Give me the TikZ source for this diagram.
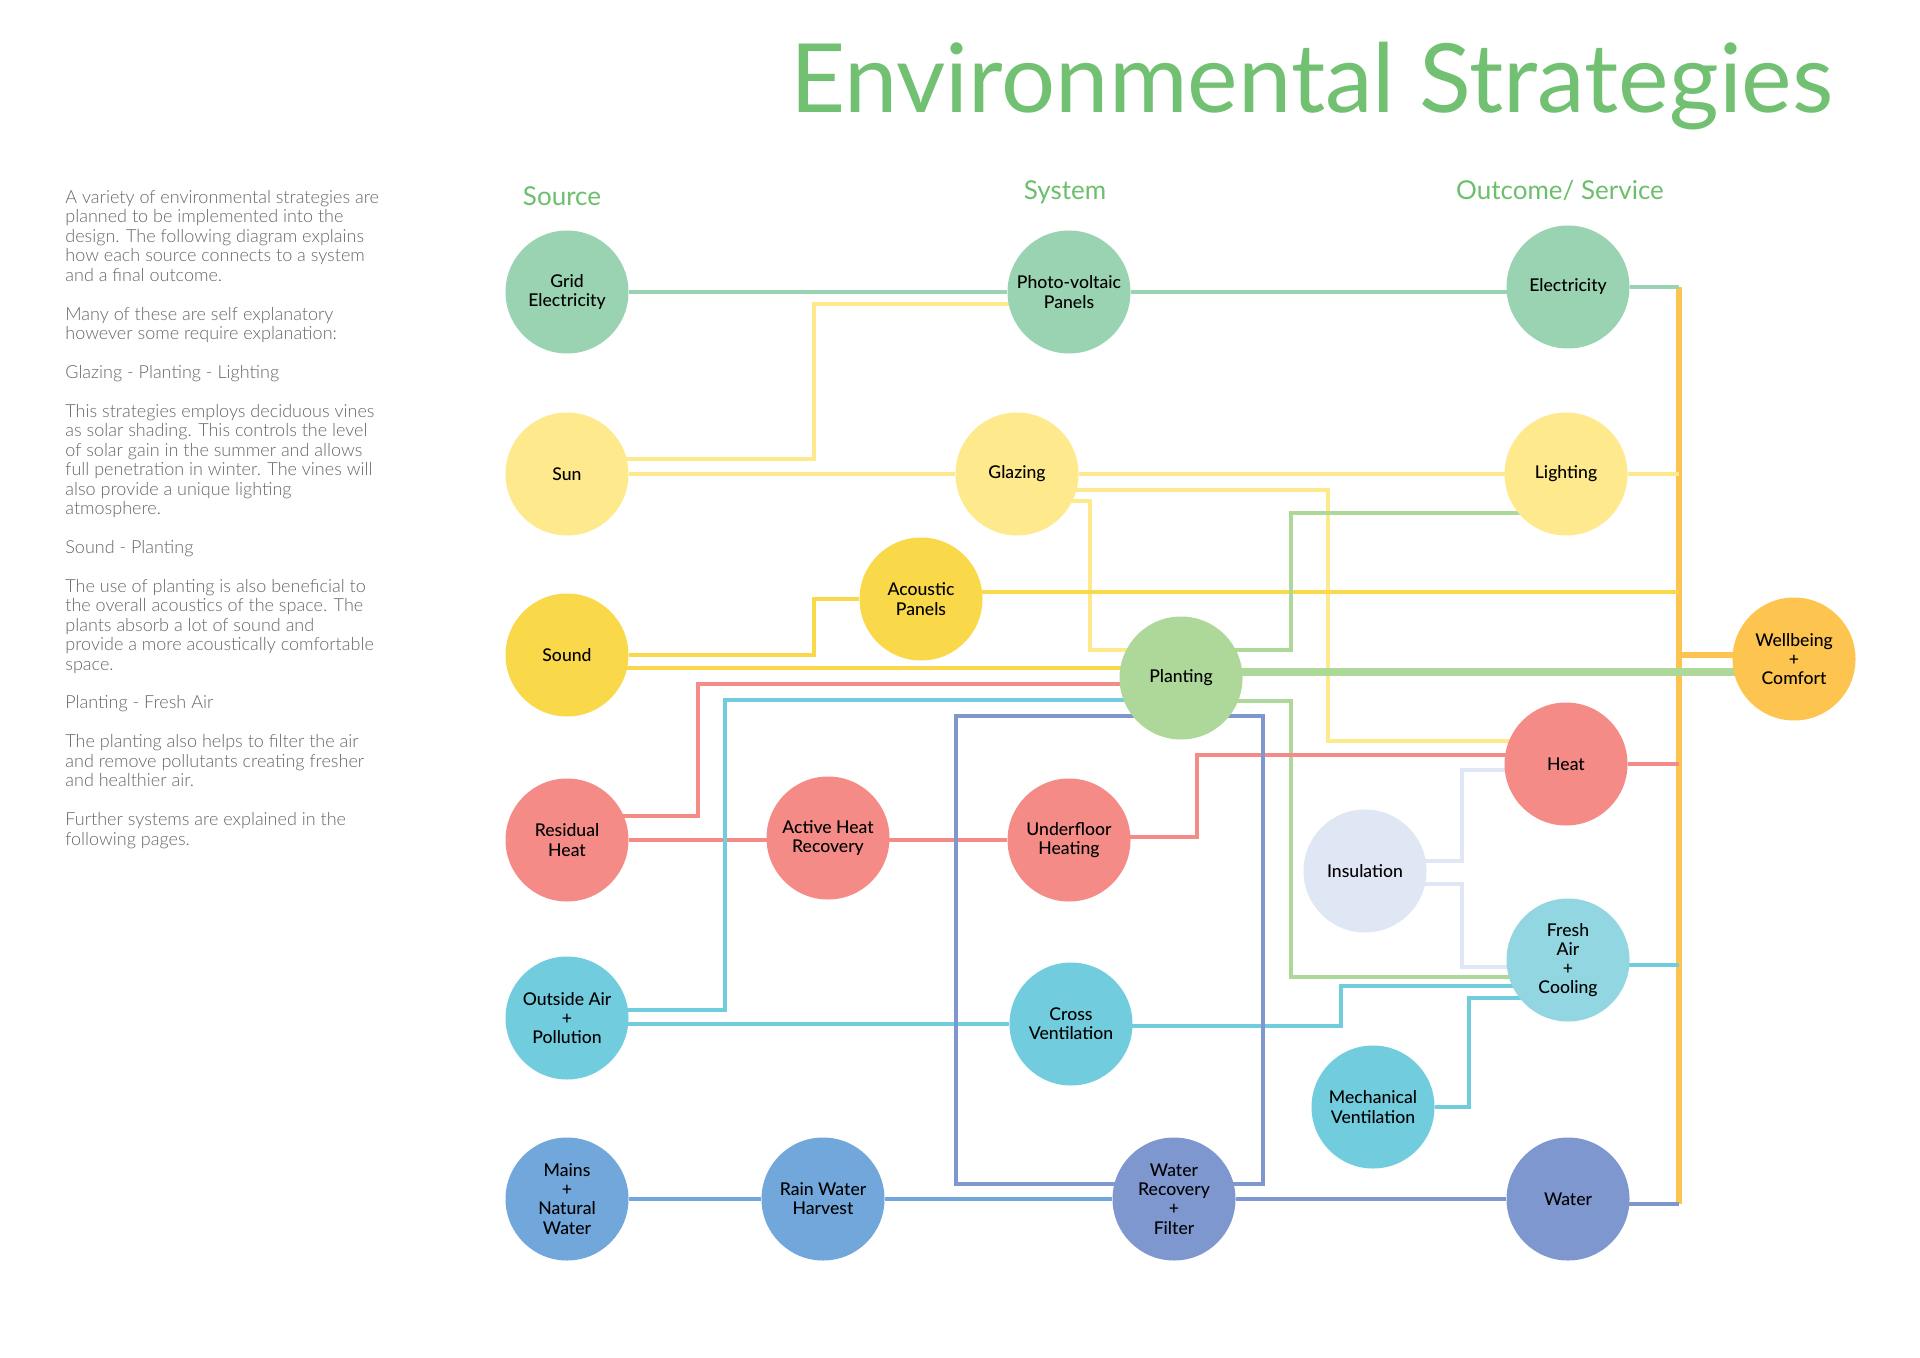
\documentclass[tikz,border=0pt]{standalone}
\usepackage{fontspec}
\setmainfont{Lato}
\IfFontExistsTF{Lato Light}{\newfontfamily\parafont{Lato Light}}{\newfontfamily\parafont{Lato}}
\IfFontExistsTF{Lato Medium}{\newfontfamily\nodefont{Lato Medium}}{\newfontfamily\nodefont{Lato}}
\usetikzlibrary{calc,backgrounds}
\definecolor{mint}{HTML}{99D3B2}
\definecolor{lyel}{HTML}{FEE98C}
\definecolor{yel}{HTML}{F9D94A}
\definecolor{lgreen}{HTML}{ADD899}
\definecolor{orng}{HTML}{FDC550}
\definecolor{sal}{HTML}{F48B87}
\definecolor{lav}{HTML}{DFE6F4}
\definecolor{lcyan}{HTML}{92D6E2}
\definecolor{cyn}{HTML}{71CDDD}
\definecolor{blu}{HTML}{71A7DB}
\definecolor{peri}{HTML}{7E97CF}
\definecolor{titlegreen}{HTML}{72C172}
\definecolor{headgreen}{HTML}{6CBF6C}
\definecolor{paragray}{HTML}{666666}
\tikzset{
  circ/.style={circle, minimum size=61.5pt, inner sep=0pt, align=center,
    font=\nodefont\fontsize{8.8}{9.6}\selectfont, text=black},
  ln/.style={line width=2.2pt},
  head/.style={anchor=base, text=headgreen, inner sep=0pt, font=\fontsize{13}{14}\selectfont},
}
\begin{document}
\begin{tikzpicture}[x=0.5pt,y=-0.5pt]
\useasboundingbox (0,0) rectangle (1920,1358);

% title and headings
\node[anchor=base west, text=titlegreen, inner sep=0pt] (title) at (790,113)
  {\resizebox{521.5pt}{!}{\fontsize{48}{48}\selectfont Environmental Strategies}};
\node[head] (hsrc) at (562,206) {Source};
\node[head] (hsys) at (1065,200) {System};
\node[head] (hout) at (1560,200) {Outcome/ Service};

% paragraph (base anchor = last line)
\node[anchor=base west, inner sep=0pt, align=left, text=paragray,
  font=\parafont\fontsize{9}{9.72}\selectfont] (para) at (65,845)
 {A variety of environmental strategies are\\
  planned to be implemented into the\\
  design. The following diagram explains\\
  how each source connects to a system\\
  and a final outcome.\\[9.72pt]
  Many of these are self explanatory\\
  however some require explanation:\\[9.72pt]
  Glazing - Planting - Lighting\\[9.72pt]
  This strategies employs deciduous vines\\
  as solar shading. This controls the level\\
  of solar gain in the summer and allows\\
  full penetration in winter. The vines will\\
  also provide a unique lighting\\
  atmosphere.\\[9.72pt]
  Sound - Planting\\[9.72pt]
  The use of planting is also beneficial to\\
  the overall acoustics of the space. The\\
  plants absorb a lot of sound and\\
  provide a more acoustically comfortable\\
  space.\\[9.72pt]
  Planting - Fresh Air\\[9.72pt]
  The planting also helps to filter the air\\
  and remove pollutants creating fresher\\
  and healthier air.\\[9.72pt]
  Further systems are explained in the\\
  following pages.};

% nodes
\node[circ, fill=mint] (grid) at (567,292) {Grid\\Electricity};
\node[circ, fill=mint] (pv) at (1069,292) {Photo-voltaic\\Panels};
\node[circ, fill=mint] (elec) at (1568,287) {Electricity};
\node[circ, fill=lyel] (sun) at (567,474) {Sun};
\node[circ, fill=lyel] (glazing) at (1017,474) {Glazing};
\node[circ, fill=lyel] (lighting) at (1566,474) {Lighting};
\node[circ, fill=yel] (acoustic) at (921,599) {Acoustic\\Panels};
\node[circ, fill=yel] (sound) at (567,655) {Sound};
\node[circ, fill=lgreen] (planting) at (1181,678) {Planting};
\node[circ, fill=orng] (wellbeing) at (1794,659) {Wellbeing\\+\\Comfort};
\node[circ, fill=sal] (residual) at (567,840) {Residual\\Heat};
\node[circ, fill=sal] (ahr) at (828,838) {Active Heat\\Recovery};
\node[circ, fill=sal] (ufh) at (1069,840) {Underfloor\\Heating};
\node[circ, fill=sal] (heat) at (1566,764) {Heat};
\node[circ, fill=lav] (insulation) at (1365,871) {Insulation};
\node[circ, fill=lcyan] (fresh) at (1568,960) {Fresh\\Air\\+\\Cooling};
\node[circ, fill=cyn] (outside) at (567,1018) {Outside Air\\+\\Pollution};
\node[circ, fill=cyn] (cross) at (1071,1024) {Cross\\Ventilation};
\node[circ, fill=cyn] (mech) at (1373,1107) {Mechanical\\Ventilation};
\node[circ, fill=blu] (mains) at (567,1199) {Mains\\+\\Natural\\Water};
\node[circ, fill=blu] (rain) at (823,1199) {Rain Water\\Harvest};
\node[circ, fill=peri] (wrf) at (1174,1199) {Water\\Recovery\\+\\Filter};
\node[circ, fill=peri] (water) at (1568,1199) {Water};

\coordinate (busT) at (1679,287);
\coordinate (busB) at (1679,1204);

\begin{scope}[on background layer]
\fill[white] (0,0) rectangle (1920,1358);
% bus
\draw[orng, line width=3pt] (busT) -- (busB);
\draw[orng, line width=3.3pt] ($(wellbeing)+(0,-4)$) coordinate (wb1) -- (wb1 -| busT);
% mint
\draw[ln, mint] (grid) -- (pv) -- (pv -| elec);
\draw[ln, mint] (elec) -- (elec -| busT);
% light yellow
\draw[ln, lyel] ($(sun)+(0,-15)$) -| (814,304) -- ($(pv)+(0,12)$);
\draw[ln, lyel] (sun) -- (glazing) -- (glazing -| lighting);
\draw[ln, lyel] (lighting) -- (lighting -| busT);
\draw[ln, lyel] ($(glazing)+(0,16)$) -| (1328,741) -- ($(heat)+(0,-23)$);
\draw[ln, lyel] ($(glazing)+(0,27)$) -| (1090,650) -- ($(planting)+(0,-28)$);
% yellow
\draw[ln, yel] (sound) -| (814,599) -- (acoustic);
\draw[ln, yel] ($(acoustic)+(0,-7)$) coordinate (a1) -- (a1 -| busT);
\draw[ln, yel] ($(sound)+(0,13)$) -- ($(planting)+(0,-10)$);
% light green
\draw[ln, lgreen] ($(planting)+(0,-28)$) -| (1291,513) -- ($(lighting)+(0,39)$);
\draw[ln, lgreen] ($(planting)+(0,23)$) -| (1291,977) -- ($(fresh)+(0,17)$);
\draw[lgreen, line width=4.3pt] ($(planting)+(0,-6)$) -- ($(wellbeing)+(0,13)$);
% salmon
\draw[ln, sal] ($(residual)+(0,-24)$) -| (698,684) -- ($(planting)+(0,6)$);
\draw[ln, sal] (residual) -- (ufh);
\draw[ln, sal] ($(ufh)+(0,-3)$) -| (1197,755) -- ($(heat)+(0,-9)$);
\draw[ln, sal] (heat) -- (heat -| busT);
% cyan
\draw[ln, cyn] ($(outside)+(0,-8)$) -| (725,700) -- ($(planting)+(0,22)$);
\draw[ln, cyn] ($(outside)+(0,6)$) -- (cross);
\draw[ln, cyn] ($(cross)+(0,2)$) -| (1341,986) -- ($(fresh)+(0,26)$);
\draw[ln, cyn] (mech) -| (1469,998) -- ($(fresh)+(0,38)$);
\draw[ln, cyn] ($(fresh)+(0,5)$) coordinate (f1) -- (f1 -| busT);
% lavender
\draw[lav, line width=2pt] ($(insulation)+(0,-10)$) -| (1462,770) -- ($(heat)+(0,6)$);
\draw[lav, line width=2pt] ($(insulation)+(0,13)$) -| (1462,967) -- ($(fresh)+(0,7)$);
% periwinkle loop
\draw[ln, peri] ($(planting)+(0,38)$) -| (956,1184) -- ($(wrf)+(0,-15)$);
\draw[ln, peri] ($(planting)+(0,38)$) -| (1263,1184) -- ($(wrf)+(0,-15)$);
% water
\draw[ln, blu] (mains) -- (rain) -- (wrf);
\draw[ln, peri] (wrf) -- (water);
\draw[ln, peri] ($(water)+(0,5)$) coordinate (w1) -- (w1 -| busT);
\end{scope}
\end{tikzpicture}
\end{document}
